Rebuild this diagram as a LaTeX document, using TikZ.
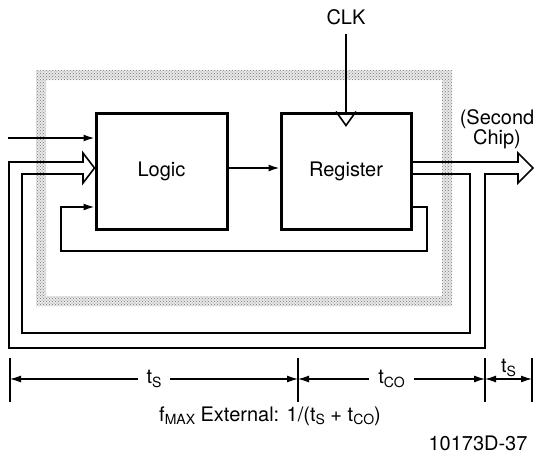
\documentclass[tikz,border=0pt]{standalone}
\usepackage{fontspec}
\setmainfont{TeX Gyre Heros}
\usetikzlibrary{arrows.meta, positioning, calc, patterns}
\definecolor{bandgray}{RGB}{232,232,232}
\definecolor{dotgray}{RGB}{120,120,120}
\newcommand{\lsub}[1]{\raisebox{-0.35ex}{\fontsize{14}{14}\selectfont #1}}
\tikzset{
  block/.style={rectangle, draw, line width=3pt,
    minimum width=131pt, minimum height=116pt,
    font=\fontsize{20}{20}\selectfont},
  arrow/.style={-{Latex[length=11pt,width=7pt]}, line width=1.6pt},
  line/.style={line width=1.6pt},
  bus/.style={line width=1.6pt, line join=miter},
  dim/.style={{Latex[length=11pt,width=7pt]}-{Latex[length=11pt,width=7pt]}, line width=1.2pt},
  tick/.style={line width=1.2pt},
  lbl/.style={font=\fontsize{20}{19}\selectfont, inner sep=1pt, align=center},
  band/.style={fill=bandgray, even odd rule},
  banddots/.style={pattern=crosshatch dots, pattern color=dotgray, even odd rule}
}
\begin{document}
\begin{tikzpicture}[x=1pt, y=-1pt]
  \useasboundingbox (0,0) rectangle (535,456);

  % Chip boundary (shaded)
  \fill[band] (36,70) rectangle (452,306) (46,80) rectangle (442,296);
  \fill[banddots] (36,70) rectangle (452,306) (46,80) rectangle (442,296);

  % Blocks
  \node[block] (logic) at (161.5,171) {Logic};
  \node[block, minimum width=130pt] (register) at (346,171) {Register};

  % Clock
  \node[lbl] (clk) at (346,17) {CLK};
  \draw[line] ([yshift=-8pt]clk.south) -- (register.north);
  \draw[line] ([xshift=-10pt]register.north) -- ([yshift=-14pt]register.north) -- ([xshift=10pt]register.north);

  % Inputs
  \coordinate (inA) at (8,138);
  \draw[arrow] (inA) -- (inA -| logic.west);
  \draw[arrow] ([yshift=3pt]logic.east) -- ([yshift=3pt]register.west);

  % Internal feedback
  \coordinate (fbR) at (427,251);
  \coordinate (fbL) at (61,251);
  \draw[arrow] ([yshift=-36pt]register.east) -| (fbR) -- (fbL) |- ([yshift=-36pt]logic.west);

  % Output bus to second chip and back
  \coordinate (outtip) at (533,168);
  \draw[bus] ([yshift=9pt]register.east) -- (518,162) -- (518,153) -- (outtip)
    -- (518,183) -- (518,174) -- (485,174) -- (485,348) -- (9,348) -- (9,162)
    -- (83,162) -- (83,153) -- ([yshift=3pt]logic.west) -- (83,183) -- (83,174)
    -- (22,174) -- (22,333) -- (470,333) -- (470,174) -- ([yshift=-3pt]register.east);
  \node[lbl] (second) at (497,129) {(Second\\Chip)};

  % Timing
  \foreach \x [count=\i from 0] in {10,298,485,532} {
    \draw[tick] (\x,358) -- (\x,402);
    \coordinate (d\i) at (\x,379);
  }
  \draw[dim] (d0) -- (d1) node[midway, lbl, fill=white, inner xsep=9pt] {t\lsub{S}};
  \draw[dim] (d1) -- (d2) node[midway, lbl, fill=white, inner xsep=9pt] {t\lsub{CO}};
  \draw[dim] (d2) -- (d3) node[midway, lbl, above=1pt] {t\lsub{S}};

  \node[lbl] (fmax) at (270,416) {f\lsub{MAX} External: 1/(t\lsub{S} + t\lsub{CO})};
  \node[lbl] (figno) at (478,443) {10173D-37};
\end{tikzpicture}
\end{document}
